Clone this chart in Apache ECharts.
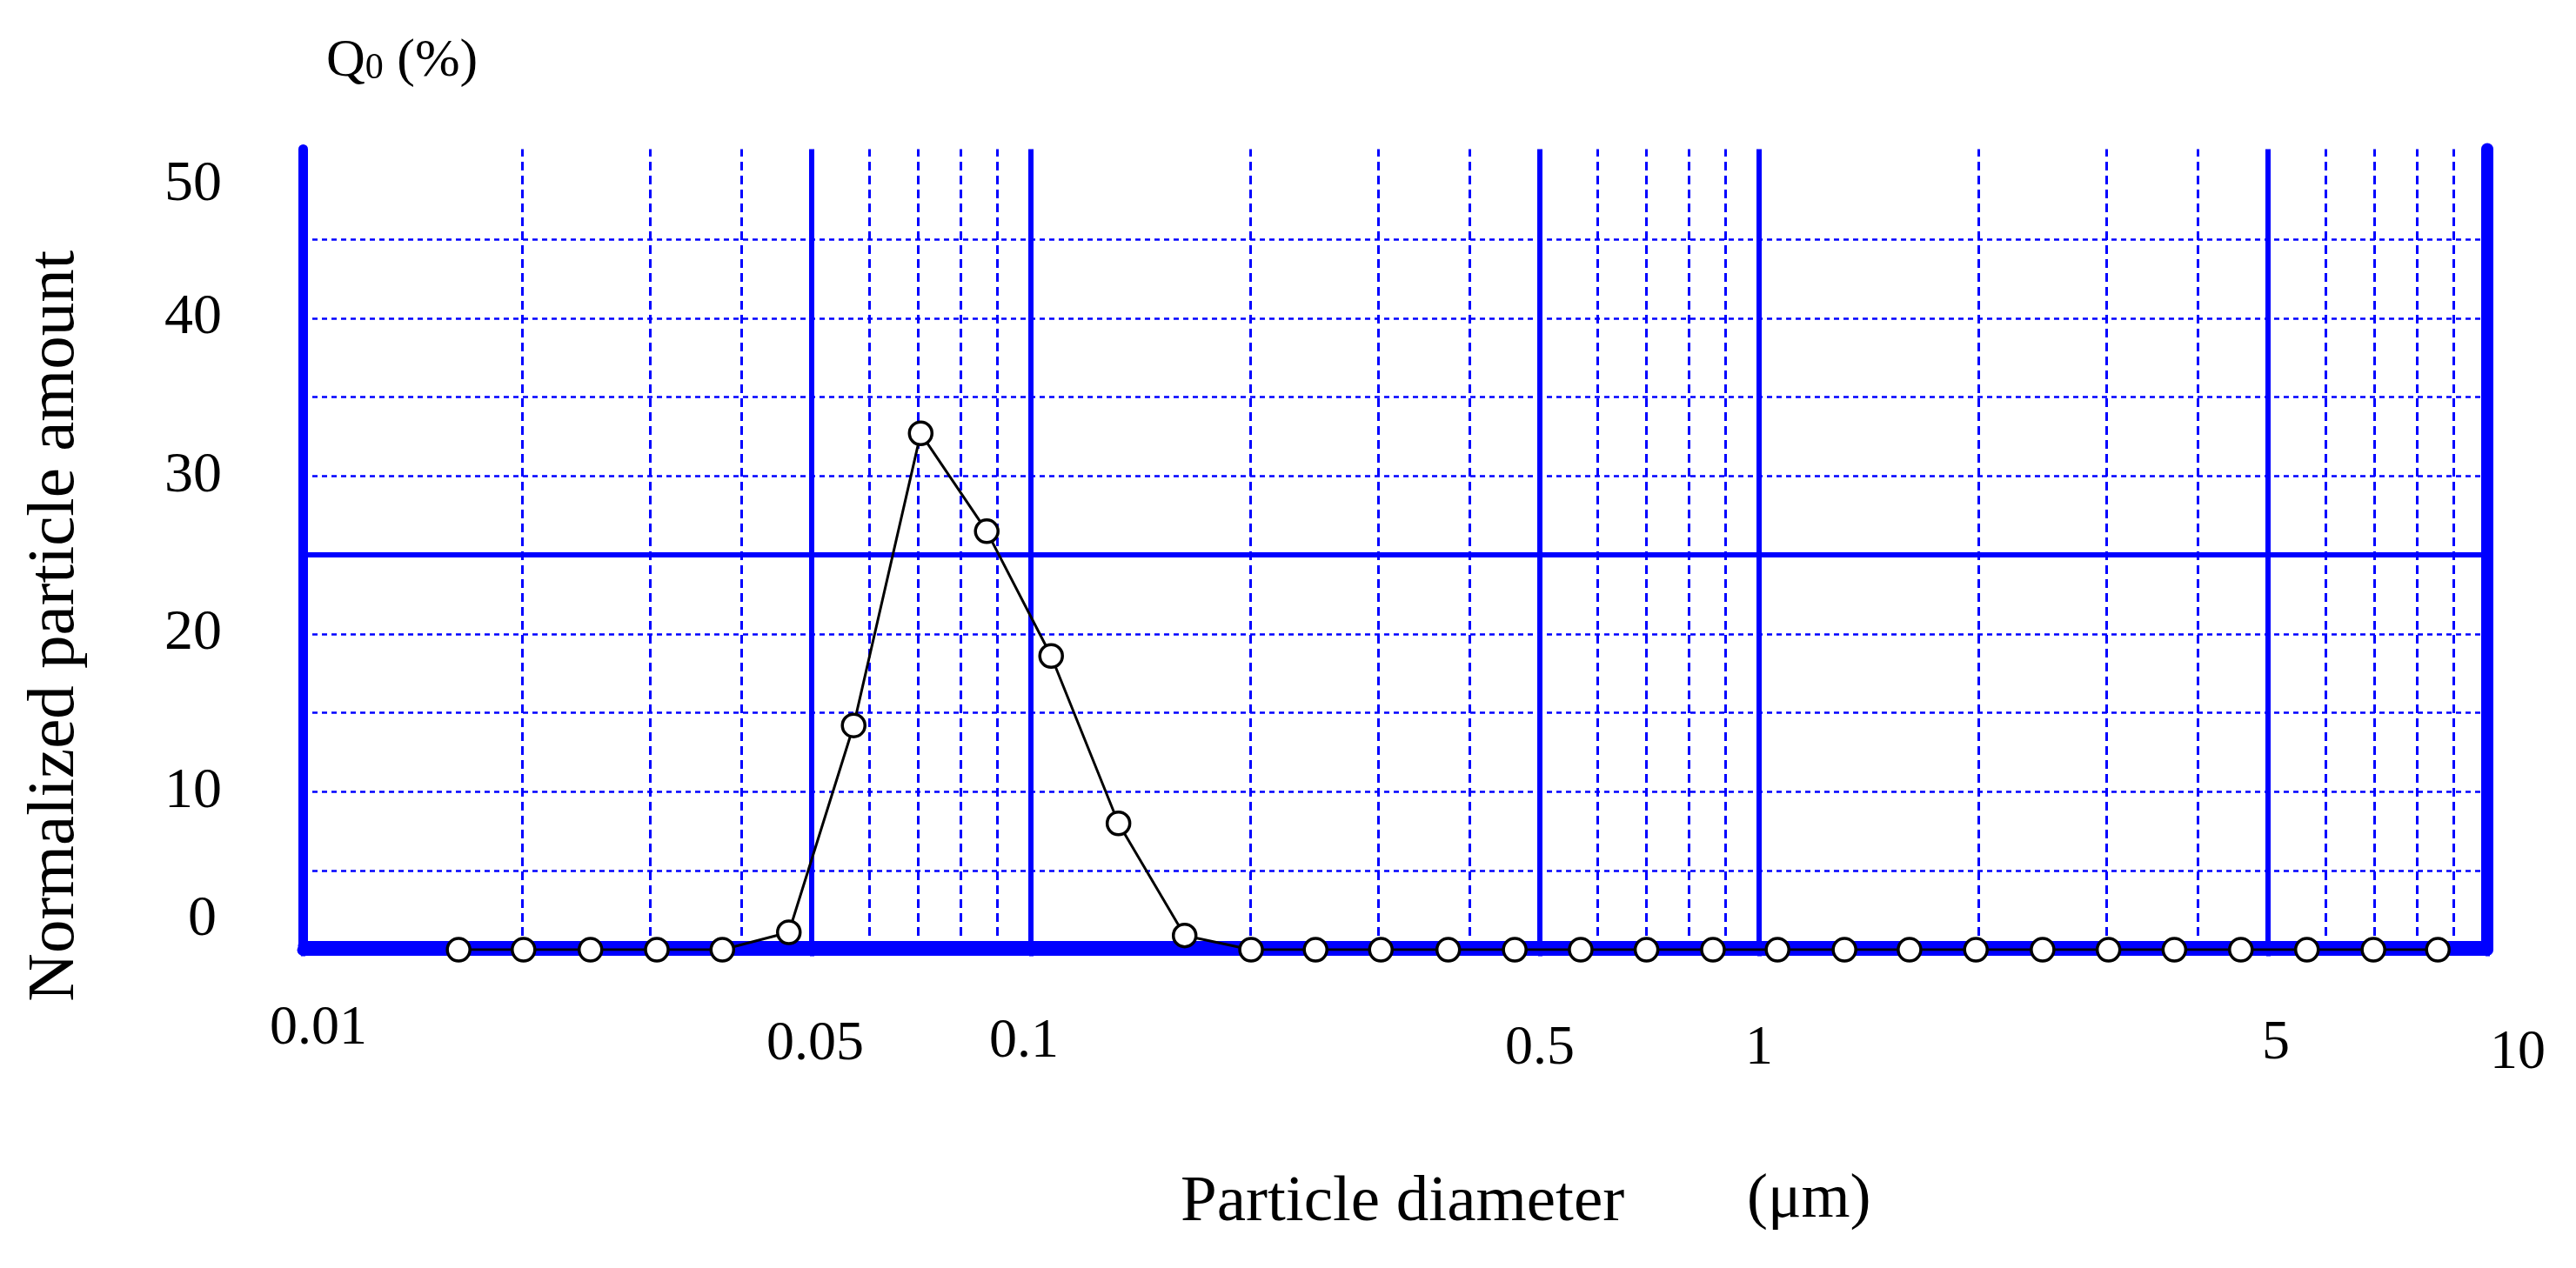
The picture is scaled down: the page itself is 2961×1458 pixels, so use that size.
<!DOCTYPE html>
<html>
<head>
<meta charset="utf-8">
<script src="https://cdn.jsdelivr.net/npm/echarts@6/dist/echarts.min.js"></script>
<style>
html,body{margin:0;padding:0;background:#fff;}
#chart{width:2961px;height:1458px;}
</style>
</head>
<body>
<div id="chart"></div>
<script>
// ---- data ----
const diameters = [0.01637, 0.0201, 0.02484, 0.03064, 0.03769, 0.04651, 0.05709, 0.07057, 0.08696, 0.1066,
  0.1319, 0.1626, 0.2006, 0.246, 0.3024, 0.3742, 0.4618, 0.5689, 0.7005, 0.8643,
  1.06, 1.31, 1.609, 1.985, 2.451, 3.019, 3.718, 4.588, 5.654, 6.977, 8.554];
const amounts = [0, 0, 0, 0, 0, 1.1, 14.2, 32.7, 26.5, 18.6,
  8.0, 0.9, 0, 0, 0, 0, 0, 0, 0, 0,
  0, 0, 0, 0, 0, 0, 0, 0, 0, 0, 0];
const xTickValues = [0.01, 0.05, 0.1, 0.5, 1, 5, 10];
const xTickLabels = ['0.01', '0.05', '0.1', '0.5', '1', '5', '10'];
const majorGrid = [0.05, 0.1, 0.5, 1, 5];
const minorGrid = [0.02, 0.03, 0.04, 0.06, 0.07, 0.08, 0.09, 0.2, 0.3, 0.4, 0.6, 0.7, 0.8, 0.9, 2, 3, 4, 6, 7, 8, 9];
const yLabelValues = [0, 10, 20, 30, 40, 50];
const yDottedLines = [5, 10, 15, 20, 30, 35, 40, 45];
const ySolidLines = [25];

const BLUE = '#0000ff';
const FONT = '"Liberation Serif", "Times New Roman", serif';

const chart = echarts.init(document.getElementById('chart'));

// per-label rich styles (layout only)
const xLabelRich = {
  s0: {padding: [0, 0, 0, 36]},
  s1: {padding: [18, 0, 0, 8]},
  s2: {padding: [15, 16, 0, 0]},
  s3: {padding: [23, 0, 0, 0]},
  s4: {padding: [23, 0, 0, 0]},
  s5: {padding: [17, 0, 0, 18]},
  s6: {padding: [28, 0, 0, 70]}
};
Object.keys(xLabelRich).forEach(k => {
  Object.assign(xLabelRich[k], {fontSize: 64, fontFamily: FONT, color: '#000'});
});

const seriesData = diameters.map((d, i) => [d, amounts[i]]);

const markLineData = []
  .concat(yDottedLines.map(v => ({yAxis: v, lineStyle: {color: BLUE, width: 2.5, type: [6, 5]}})))
  .concat(minorGrid.map(v => ({xAxis: v, lineStyle: {color: BLUE, width: 3, type: [10, 6]}})))
  .concat(majorGrid.map(v => ({xAxis: v, lineStyle: {color: BLUE, width: 6, type: 'solid'}})))
  .concat(ySolidLines.map(v => ({yAxis: v, lineStyle: {color: BLUE, width: 6, type: 'solid'}})));

const option = {
  animation: false,
  backgroundColor: '#fff',
  title: [
    {
      text: '{q|Q}{s|0}{q| (%)}',
      left: 375, top: 40, padding: 0,
      textStyle: {
        rich: {
          q: {fontSize: 62, fontFamily: FONT, fontWeight: 'normal', color: '#000'},
          s: {fontSize: 42, fontFamily: FONT, fontWeight: 'normal', color: '#000', verticalAlign: 'bottom', padding: [0, 0, 2, 0]}
        }
      }
    },
    {
      text: 'Particle diameter', left: 1357, top: 1346, padding: 0,
      textStyle: {fontSize: 75, fontFamily: FONT, fontWeight: 'normal', color: '#000'}
    },
    {
      text: '(μm)', left: 2008, top: 1344, padding: 0,
      textStyle: {fontSize: 72, fontFamily: FONT, fontWeight: 'normal', color: '#000'}
    }
  ],
  grid: {left: 348, right: 102, top: 171.5, bottom: 366, containLabel: false},
  xAxis: [
    {
      type: 'log', logBase: 10, min: 0.01, max: 10, position: 'bottom', offset: -4.5, z: 3,
      axisLine: {show: true, lineStyle: {color: BLUE, width: 11}},
      axisTick: {show: true, customValues: xTickValues, length: 12, inside: false, lineStyle: {color: BLUE, width: 5}},
      splitLine: {show: false},
      minorTick: {show: false},
      axisLabel: {
        show: true, customValues: xTickValues, margin: 64,
        formatter: function (v) {
          for (let i = 0; i < xTickValues.length; i++) {
            if (Math.abs(Math.log10(v / xTickValues[i])) < 1e-6) return '{s' + i + '|' + xTickLabels[i] + '}';
          }
          return '';
        },
        rich: xLabelRich
      }
    },
    {
      type: 'log', logBase: 10, min: 0.01, max: 10, position: 'top', z: 3,
      axisLine: {show: true, lineStyle: {color: BLUE, width: 13}},
      axisTick: {show: false}, axisLabel: {show: false}, splitLine: {show: false}
    }
  ],
  yAxis: [
    {
      type: 'value', min: 0, max: 50.7, interval: 5, position: 'left', z: 3,
      name: 'Normalized particle amount', nameLocation: 'middle', nameRotate: 90, nameGap: 246,
      nameTextStyle: {fontSize: 77, fontFamily: FONT, color: '#000', padding: [0, 176, 0, 0]},
      axisLine: {show: true, lineStyle: {color: BLUE, width: 11}},
      axisTick: {show: false},
      splitLine: {show: false},
      axisLabel: {
        show: true, margin: 93,
        formatter: function (v) {
          if (yLabelValues.indexOf(v) < 0) return '';
          if (v === yLabelValues[0]) return '{z|' + v + '}';
          if (v === yLabelValues[yLabelValues.length - 1]) return '{t|' + v + '}';
          return '{n|' + v + '}';
        },
        rich: {
          n: {fontSize: 66, fontFamily: FONT, color: '#000'},
          z: {fontSize: 66, fontFamily: FONT, color: '#000', padding: [0, 6, 68, 0]},
          t: {fontSize: 66, fontFamily: FONT, color: '#000', padding: [56, 0, 0, 0]}
        }
      }
    },
    {
      type: 'value', min: 0, max: 50.7, position: 'right', z: 3,
      axisLine: {show: true, lineStyle: {color: BLUE, width: 14}},
      axisTick: {show: false}, axisLabel: {show: false}, splitLine: {show: false}
    }
  ],
  series: [
    {
      type: 'line',
      xAxisIndex: 0, yAxisIndex: 0,
      data: seriesData,
      z: 10,
      showAllSymbol: true,
      symbol: 'circle',
      symbolSize: 26,
      lineStyle: {color: '#000', width: 3},
      itemStyle: {color: '#fff', borderColor: '#000', borderWidth: 3.5},
      emphasis: {disabled: true},
      markLine: {
        silent: true, z: 1, animation: false,
        symbol: ['none', 'none'],
        label: {show: false},
        emphasis: {disabled: true},
        data: markLineData
      }
    }
  ]
};
chart.setOption(option);
</script>
</body>
</html>
